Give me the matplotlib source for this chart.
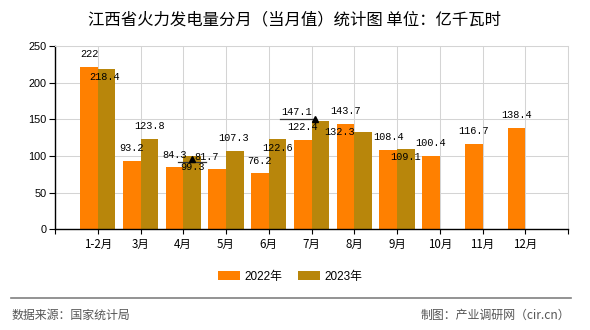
import numpy as np
import matplotlib
matplotlib.use('Agg')
import matplotlib.pyplot as plt
import matplotlib.transforms as mtransforms

plt.rcParams['font.family'] = ['Noto Sans CJK SC', 'DejaVu Sans']

months = ['1-2月', '3月', '4月', '5月', '6月', '7月', '8月', '9月', '10月', '11月', '12月']
v2022 = [222, 93.2, 84.3, 81.7, 76.2, 122.4, 143.7, 108.4, 100.4, 116.7, 138.4]
v2023 = [218.4, 123.8, 99.3, 107.3, 122.6, 147.1, 132.3, 109.1]
yticks = [0, 50, 100, 150, 200, 250]

# label nudges in pixels (the original chart shifts some to dodge overlaps)
dx22 = [0, 0, 0, -10.5, 0, 0, 0, 0, 0, 0, 0]
dy22 = [12.6] * 11
dx23 = [-1.5, 0, 0, -1, 0, -24, -23, 0]
dy23 = [-7.5, 12.5, -10.5, 12.3, -8.9, 9.7, 0, -8]

c22 = '#ff8000'
c23 = '#b8860b'
w = 0.41

fig = plt.figure(figsize=(5.9, 3.3), dpi=100)
ax = fig.add_axes([55/590, 1 - 229.3/330, 513/590, 183.3/330])

x = np.arange(len(months))
x23 = np.arange(len(v2023))
ax.bar(x - w/2, v2022, w, color=c22, label='2022年', zorder=2)
ax.bar(x23 + w/2, v2023, w, color=c23, label='2023年', zorder=2)

def px(dx, dy):
    return ax.transData + mtransforms.ScaledTranslation(dx/100, dy/100, fig.dpi_scale_trans)

lab_font = dict(family=['Liberation Mono', 'DejaVu Sans Mono'], size=7.4, color='black')
for i, v in enumerate(v2022):
    ax.annotate(f'{v:g}', (x[i] - w/2, v), xytext=(dx22[i], dy22[i]), textcoords='offset pixels',
                ha='center', va='center', zorder=5, **lab_font)
for i, v in enumerate(v2023):
    ax.annotate(f'{v:g}', (x23[i] + w/2, v), xytext=(dx23[i], dy23[i]), textcoords='offset pixels',
                ha='center', va='center', zorder=5, **lab_font)

# small leader marks left by the original label layout
unit = 513 / 12  # pixels per category
for i, y_off, left, right, tri_dx, tri_dy in [(2, dy23[2] + 5, -14, 14, 0, dy23[2] + 7.5),
                                              (5, dy23[5] - 7.6, -16, 17, 19, dy23[5] - 7.3)]:
    xc = x23[i] + w/2 + dx23[i] / unit
    v = v2023[i]
    ax.plot([xc + left/unit, xc + right/unit], [v, v], color='#333333', lw=0.9,
            transform=px(0, y_off), zorder=6)
    ax.plot([xc], [v], marker='^', ms=4, color='black', transform=px(tri_dx, tri_dy), zorder=6)

ax.set_xlim(-1, 11)
ax.set_ylim(0, 250)
ax.set_xticks(np.arange(-1, 12))
ax.set_xticklabels([''] + months + [''], fontsize=8.3)
ax.set_yticks(yticks)
ax.set_yticklabels([str(t) for t in yticks], family=['Liberation Sans'], fontsize=7.8)
ax.tick_params(axis='x', direction='out', length=3.5, width=0.8, pad=2.5)
ax.tick_params(axis='y', direction='out', length=4.3, width=0.8, pad=1.7)
ax.grid(True, color='#d4d4d4', lw=0.75, zorder=0)
ax.set_axisbelow(True)
for s in ['top', 'right']:
    ax.spines[s].set_color('#d4d4d4')
    ax.spines[s].set_linewidth(0.75)
for s in ['left', 'bottom']:
    ax.spines[s].set_color('black')
    ax.spines[s].set_linewidth(1.0)

fig.text(0.5, 1 - 20/330, '江西省火力发电量分月（当月值）统计图 单位：亿千瓦时',
         ha='center', va='center', fontsize=11.8, color='black')

fig.legend(loc='center', bbox_to_anchor=(290.3/590, 1 - 276.7/330), ncol=2, frameon=False,
           handlelength=1.84, handleheight=0.76, handletextpad=0.42, columnspacing=1.32,
           prop={'family': ['Liberation Sans', 'Noto Sans CJK SC'], 'size': 8.5})

fig.add_artist(plt.Line2D([10.7/590, 571/590], [1 - 297.7/330] * 2, color='#808080', lw=1.2))
fig.text(11.7/590, 1 - 315.7/330, '数据来源：国家统计局', ha='left', va='center', fontsize=8.6, color='#555555')
fig.text(570/590, 1 - 315.7/330, '制图：产业调研网（cir.cn）', ha='right', va='center', fontsize=8.6, color='#555555')

fig.savefig('out.png', dpi=100)
